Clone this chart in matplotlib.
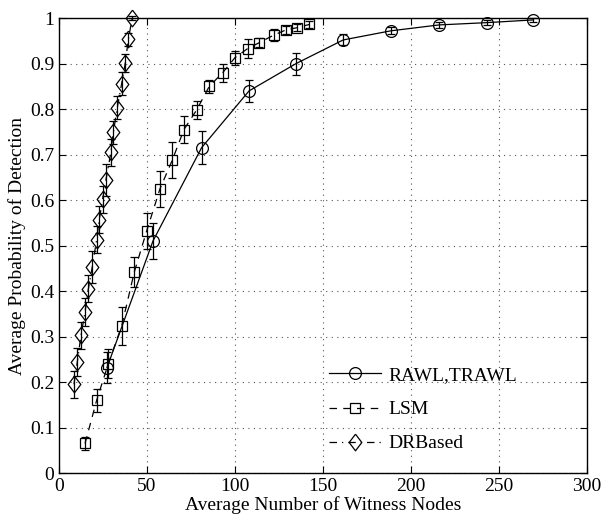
import numpy as np
import matplotlib.pyplot as plt
from matplotlib.lines import Line2D

# RAWL,TRAWL
rawl_x = [27.3, 53.4, 81.0, 108.0, 134.7, 161.5, 188.5, 216.0, 243.0, 269.5]
rawl_y = [0.232, 0.510, 0.715, 0.840, 0.900, 0.952, 0.972, 0.985, 0.990, 0.996]
rawl_e = [0.035, 0.040, 0.036, 0.024, 0.024, 0.012, 0.008, 0.007, 0.006, 0.004]

# LSM
lsm_x = [14.8, 21.4, 28.0, 35.6, 42.8, 49.8, 57.4, 64.4, 71.0, 78.2,
         85.4, 93.0, 100.0, 107.2, 113.8, 122.2, 129.0, 135.4, 142.2]
lsm_y = [0.065, 0.160, 0.240, 0.323, 0.442, 0.532, 0.625, 0.688, 0.755, 0.798,
         0.850, 0.880, 0.913, 0.933, 0.946, 0.963, 0.974, 0.979, 0.986]
lsm_e = [0.015, 0.025, 0.032, 0.042, 0.032, 0.040, 0.040, 0.040, 0.030, 0.020,
         0.015, 0.020, 0.015, 0.021, 0.010, 0.014, 0.008, 0.007, 0.008]

# DRBased
dr_x = [8.5, 10.4, 12.5, 14.8, 16.7, 18.9, 21.4, 22.9, 24.8, 26.7, 29.5,
        30.9, 33.1, 35.6, 37.7, 39.4, 41.6]
dr_y = [0.195, 0.244, 0.303, 0.354, 0.405, 0.453, 0.513, 0.557, 0.602, 0.645,
        0.705, 0.749, 0.803, 0.856, 0.902, 0.953, 1.000]
dr_e = [0.030, 0.030, 0.030, 0.030, 0.030, 0.035, 0.030, 0.030, 0.030, 0.035,
        0.030, 0.025, 0.025, 0.025, 0.020, 0.015, 0.005]

plt.rcParams['font.family'] = ['Liberation Serif', 'DejaVu Serif']
plt.rcParams['font.size'] = 14

fig = plt.figure(figsize=(6.02, 5.17), dpi=100)
ax = fig.add_axes([0.098, 0.085, 0.877, 0.880])

diamond = [(0, 1), (0.76, 0), (0, -1), (-0.76, 0), (0, 1)]
styles = [
    (rawl_x, rawl_y, rawl_e, 'o', 8.5, '-', 'RAWL,TRAWL'),
    (lsm_x, lsm_y, lsm_e, 's', 6.8, (0, (6, 5)), 'LSM'),
    (dr_x, dr_y, dr_e, diamond, 12, (0, (6, 4, 1, 4)), 'DRBased'),
]
handles = []
for xs, ys, es, mk, ms, ls, lab in styles:
    ax.errorbar(xs, ys, yerr=es, fmt='none', ecolor='k', elinewidth=0.9,
                capsize=3, capthick=0.9, clip_on=False, zorder=3)
    ax.plot(xs, ys, color='k', linewidth=0.9, linestyle=ls, marker=mk,
            markersize=ms, markerfacecolor='none', markeredgecolor='k',
            markeredgewidth=0.9, clip_on=False, zorder=4)
    handles.append(Line2D([], [], color='k', linewidth=0.9, linestyle=ls,
                          marker=mk, markersize=ms, markerfacecolor='none',
                          markeredgecolor='k', markeredgewidth=0.9))

ax.set_xlim(0, 300)
ax.set_ylim(0, 1)
ax.set_xticks(np.arange(0, 301, 50))
ax.set_yticks(np.arange(0, 1.01, 0.1))
ax.set_yticklabels(['0', '0.1', '0.2', '0.3', '0.4', '0.5', '0.6', '0.7',
                    '0.8', '0.9', '1'])
ax.grid(True, linestyle=(0, (1, 4)), color='#555555', linewidth=0.8)
ax.tick_params(direction='in', top=True, right=True, length=5, labelsize=14)
for s in ax.spines.values():
    s.set_linewidth(1.0)

ax.set_xlabel('Average Number of Witness Nodes', fontsize=14, labelpad=1)
ax.set_ylabel('Average Probability of Detection', fontsize=14, labelpad=3)

ax.legend(handles, [s[6] for s in styles], loc='upper left',
          bbox_to_anchor=(0.511, 0.234), frameon=False, fontsize=14,
          handlelength=2.7, labelspacing=0.85, handletextpad=0.35,
          borderpad=0, borderaxespad=0)

fig.savefig('out.png', dpi=100)
